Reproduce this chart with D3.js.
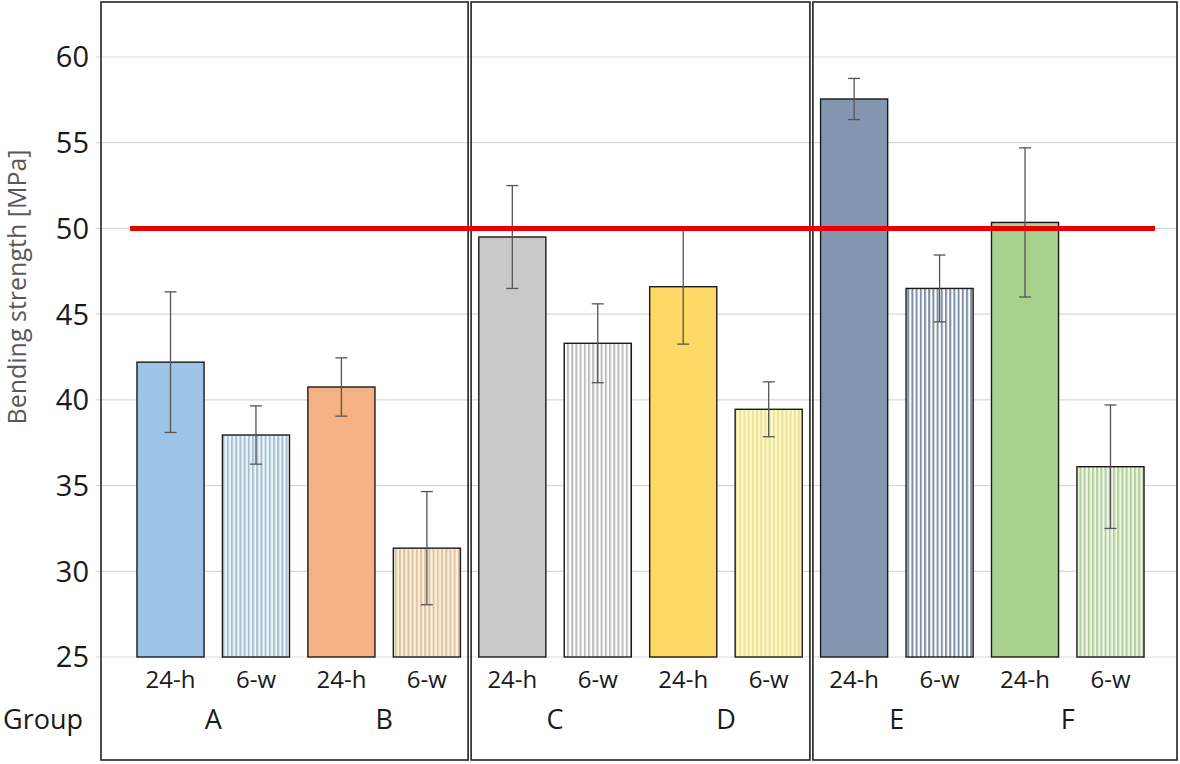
<!DOCTYPE html>
<html>
<head>
<meta charset="utf-8">
<script src="https://cdn.jsdelivr.net/npm/d3@7"></script>
<style>
  body { margin: 0; background: #fff; }
  svg { display: block; font-family: "Open Sans", "Noto Sans", sans-serif; }
</style>
</head>
<body>
<svg width="1180" height="764"></svg>
<script>
// groups and storage times
var groups = ['A', 'B', 'C', 'D', 'E', 'F'];
var times = ['24-h', '6-w'];
// bending strength (MPa), mean and sd, in order A 24-h, A 6-w, B 24-h, ...
var means = [42.2, 37.95, 40.75, 31.35, 49.5, 43.3, 46.6, 39.45, 57.55, 46.5, 50.35, 36.1];
var errors = [4.1, 1.7, 1.7, 3.3, 3.0, 2.3, 3.35, 1.6, 1.2, 1.95, 4.35, 3.6];
var yTicks = [25, 30, 35, 40, 45, 50, 55, 60];
var limit = 50;
// which groups share a frame
var panels = [['A', 'B'], ['C', 'D'], ['E', 'F']];

var fills = { A: '#9DC3E6', B: '#F4B183', C: '#C9C9C9', D: '#FFD966', E: '#8497B0', F: '#A9D18E' };
var stripeBg = { A: '#EAF7FB', B: '#FBF0DC', C: '#FFFFFF', D: '#FFF9C8', E: '#FFFFFF', F: '#EEF7E4' };
var stripeFg = { A: '#A9BFD0', B: '#DCC3A5', C: '#BDBDBD', D: '#EDE29A', E: '#7E8FA3', F: '#B4CDA0' };

var rows = [];
groups.forEach(function(g) {
  times.forEach(function(t) {
    var i = rows.length;
    rows.push({ id: g + ' ' + t, group: g, time: t, mean: means[i], err: errors[i] });
  });
});

var svg = d3.select('svg');
var frameTop = 2, frameBottom = 760, frameLeft = 101, frameRight = 1177;

var x = d3.scaleBand()
  .domain(rows.map(function(d) { return d.id; }))
  .range([118.6, 1162.4])
  .paddingInner(0.215)
  .paddingOuter(0.215);

var y = d3.scaleLinear().domain([25, 60]).range([657, 57]);

// stripe patterns for 6-w bars
var defs = svg.append('defs');
groups.forEach(function(g) {
  var p = defs.append('pattern')
    .attr('id', 'stripe-' + g)
    .attr('patternUnits', 'userSpaceOnUse')
    .attr('width', 4.2)
    .attr('height', 10);
  p.append('rect').attr('width', 4.2).attr('height', 10).attr('fill', stripeBg[g]);
  p.append('rect').attr('x', 0).attr('width', 2).attr('height', 10).attr('fill', stripeFg[g]);
});

// gridlines
svg.append('g')
  .selectAll('line')
  .data(yTicks)
  .enter()
  .append('line')
  .attr('x1', 96)
  .attr('x2', frameRight)
  .attr('y1', function(d) { return y(d); })
  .attr('y2', function(d) { return y(d); })
  .attr('stroke', '#d9d9d9')
  .attr('stroke-width', 1.2);

// y tick labels
svg.append('g')
  .selectAll('text')
  .data(yTicks)
  .enter()
  .append('text')
  .attr('x', 89)
  .attr('y', function(d) { return y(d); })
  .attr('dy', '0.36em')
  .attr('text-anchor', 'end')
  .attr('font-size', 29)
  .attr('fill', '#1a1a1a')
  .text(function(d) { return d; });

svg.append('text')
  .attr('transform', 'translate(26,287) rotate(-90)')
  .attr('text-anchor', 'middle')
  .attr('font-size', 25)
  .attr('fill', '#595959')
  .text('Bending strength [MPa]');

// panel frames
var step = x.step();
function panelEdges(p, i) {
  var first = x(p[0] + ' 24-h');
  var last = x(p[1] + ' 6-w') + x.bandwidth();
  var gap = (step - x.bandwidth()) / 2;
  return {
    x0: i === 0 ? frameLeft : first - gap + 1.5,
    x1: i === panels.length - 1 ? frameRight : last + gap - 1.5
  };
}
svg.append('g')
  .selectAll('rect')
  .data(panels)
  .enter()
  .append('rect')
  .attr('x', function(d, i) { return panelEdges(d, i).x0; })
  .attr('y', frameTop)
  .attr('width', function(d, i) { var e = panelEdges(d, i); return e.x1 - e.x0; })
  .attr('height', frameBottom - frameTop)
  .attr('fill', 'none')
  .attr('stroke', '#222')
  .attr('stroke-width', 1.6);

// bars
svg.append('g')
  .selectAll('rect')
  .data(rows)
  .enter()
  .append('rect')
  .attr('x', function(d) { return x(d.id); })
  .attr('y', function(d) { return y(d.mean); })
  .attr('width', x.bandwidth())
  .attr('height', function(d) { return y(25) - y(d.mean); })
  .attr('fill', function(d) {
    return d.time === '24-h' ? fills[d.group] : 'url(#stripe-' + d.group + ')';
  })
  .attr('stroke', '#1a1a1a')
  .attr('stroke-width', 1.4);

// error bars
var eb = svg.append('g')
  .attr('stroke', '#555')
  .attr('stroke-width', 1.3)
  .selectAll('g')
  .data(rows)
  .enter()
  .append('g')
  .attr('transform', function(d) { return 'translate(' + (x(d.id) + x.bandwidth() / 2) + ',0)'; });
eb.append('line')
  .attr('y1', function(d) { return y(d.mean + d.err); })
  .attr('y2', function(d) { return y(d.mean - d.err); });
eb.append('line')
  .attr('x1', -6).attr('x2', 6)
  .attr('y1', function(d) { return y(d.mean + d.err); })
  .attr('y2', function(d) { return y(d.mean + d.err); });
eb.append('line')
  .attr('x1', -6).attr('x2', 6)
  .attr('y1', function(d) { return y(d.mean - d.err); })
  .attr('y2', function(d) { return y(d.mean - d.err); });

// 50 MPa reference line
svg.append('line')
  .attr('x1', 130)
  .attr('x2', 1155)
  .attr('y1', y(limit))
  .attr('y2', y(limit))
  .attr('stroke', '#E60000')
  .attr('stroke-width', 5);

// category labels
svg.append('g')
  .selectAll('text')
  .data(rows)
  .enter()
  .append('text')
  .attr('x', function(d) { return x(d.id) + x.bandwidth() / 2; })
  .attr('y', 688)
  .attr('text-anchor', 'middle')
  .attr('font-size', 24)
  .attr('fill', '#1a1a1a')
  .text(function(d) { return d.time; });

svg.append('g')
  .selectAll('text')
  .data(groups)
  .enter()
  .append('text')
  .attr('x', function(g) {
    return (x(g + ' 24-h') + x(g + ' 6-w') + x.bandwidth()) / 2;
  })
  .attr('y', 729)
  .attr('text-anchor', 'middle')
  .attr('font-size', 27)
  .attr('fill', '#1a1a1a')
  .text(function(g) { return g; });

svg.append('text')
  .attr('x', 3)
  .attr('y', 729)
  .attr('font-size', 27)
  .attr('fill', '#1a1a1a')
  .text('Group');
</script>
</body>
</html>
